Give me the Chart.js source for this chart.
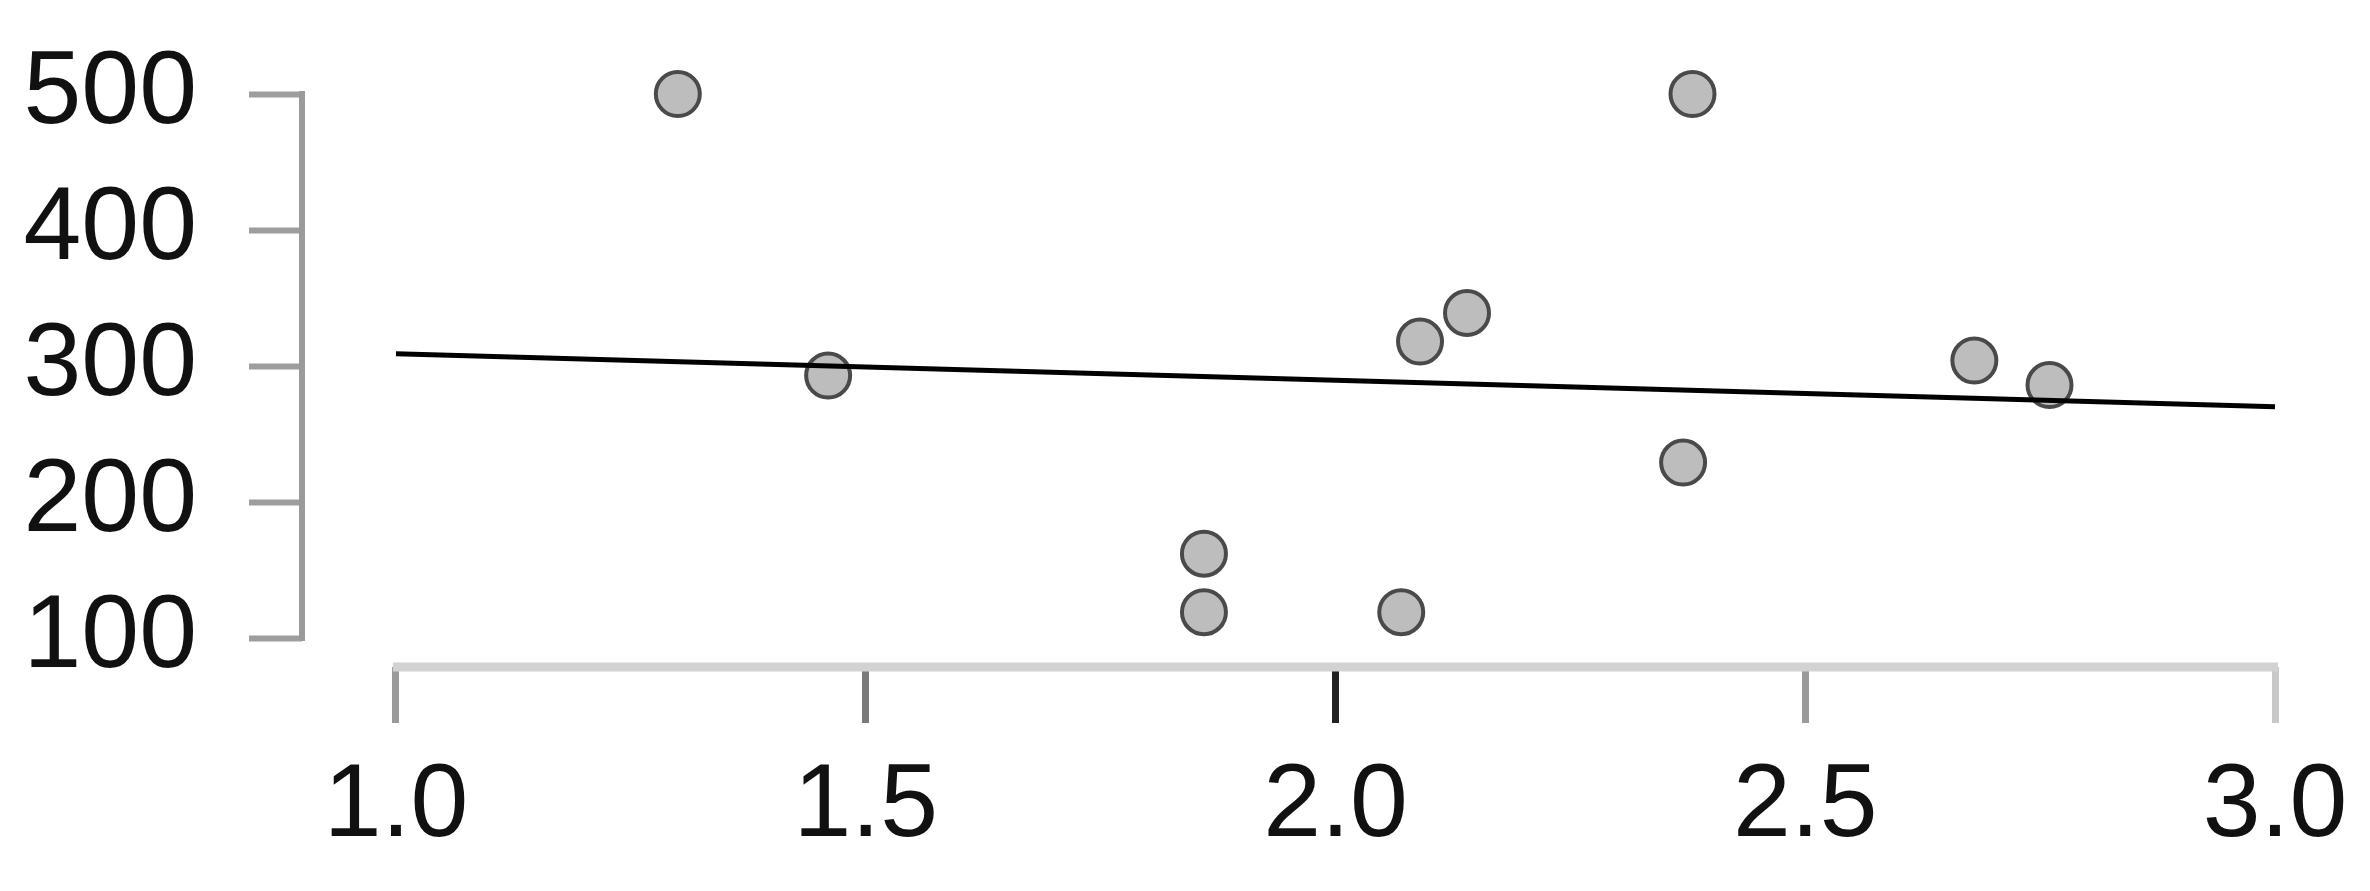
<!DOCTYPE html>
<html>
<head>
<meta charset="utf-8">
<title>Scatter with fit line</title>
<script src="https://cdn.jsdelivr.net/npm/chart.js@4.4.1/dist/chart.umd.min.js"></script>
<style>
    html, body { margin: 0; padding: 0; background: #ffffff; }
    #wrap { position: relative; width: 2370px; height: 891px; }
</style>
</head>
<body>
<div id="wrap"><canvas id="scatterChart"></canvas></div>
<script>
// values
const xValues = [1.30, 1.46, 1.86, 1.86, 2.07, 2.09, 2.14, 2.37, 2.38, 2.68, 2.76];
const yValues = [500, 293, 162, 119, 119, 318, 339, 229, 500, 304, 286];

// fitted line end points
const fitX = [1.0, 3.0];
const fitY = [309, 270];

// tick labels
const xTicks = [1.0, 1.5, 2.0, 2.5, 3.0];
const yTicks = [100, 200, 300, 400, 500];

document.addEventListener('DOMContentLoaded', () => {
    const points = xValues.map((x, i) => ({ x: x, y: yValues[i] }));
    const fitLine = fitX.map((x, i) => ({ x: x, y: fitY[i] }));

    // x tick marks are not all the same shade in the picture
    const xTickColors = ['#9a9a9a', '#7a7a7a', '#222222', '#9a9a9a', '#c8c8c8'];

    // axis lines only run between the first and last tick
    const axisLines = {
        id: 'axisLines',
        beforeDatasetsDraw(chart) {
            const { ctx, scales } = chart;
            const xs = scales.x, ys = scales.y;
            ctx.save();
            // y axis
            ctx.strokeStyle = '#9a9a9a';
            ctx.lineWidth = 6;
            ctx.beginPath();
            ctx.moveTo(ys.right, ys.getPixelForValue(yTicks[0]) + 3);
            ctx.lineTo(ys.right, ys.getPixelForValue(yTicks[yTicks.length - 1]) - 3);
            ctx.stroke();
            // x axis
            ctx.strokeStyle = '#d2d2d2';
            ctx.lineWidth = 9;
            ctx.beginPath();
            ctx.moveTo(xs.getPixelForValue(xTicks[0]) - 3, xs.top);
            ctx.lineTo(xs.getPixelForValue(xTicks[xTicks.length - 1]) + 3, xs.top);
            ctx.stroke();
            ctx.restore();
        }
    };

    const labelFont = { family: '"Liberation Sans", Arial, sans-serif', size: 104 };

    const ctx = document.getElementById('scatterChart').getContext('2d');
    new Chart(ctx, {
        type: 'scatter',
        data: {
            datasets: [
                {
                    label: 'fit',
                    data: fitLine,
                    showLine: true,
                    borderColor: '#000000',
                    borderWidth: 5,
                    pointRadius: 0,
                    order: 0,
                    clip: false
                },
                {
                    label: 'observations',
                    data: points,
                    backgroundColor: '#bdbdbd',
                    borderColor: '#4a4a4a',
                    borderWidth: 4,
                    pointRadius: 22,
                    order: 1,
                    clip: false
                }
            ]
        },
        options: {
            responsive: true,
            maintainAspectRatio: false,
            animation: false,
            layout: { padding: { top: 94, right: 95, left: 0, bottom: 0 } },
            plugins: {
                legend: { display: false },
                tooltip: { enabled: false }
            },
            scales: {
                x: {
                    type: 'linear',
                    min: 0.9,
                    max: 3.0,
                    afterBuildTicks: (scale) => {
                        scale.ticks = xTicks.map(v => ({ value: v }));
                    },
                    afterFit: (scale) => { scale.height = 224; },
                    border: { display: false },
                    grid: {
                        drawOnChartArea: false,
                        drawTicks: true,
                        tickLength: 56,
                        tickWidth: 7,
                        tickColor: (c) => xTickColors[c.index] || '#9a9a9a'
                    },
                    ticks: {
                        color: '#111111',
                        font: labelFont,
                        padding: 22,
                        maxRotation: 0,
                        callback: (v) => Number(v).toFixed(1)
                    }
                },
                y: {
                    type: 'linear',
                    min: 78.7,
                    max: 500,
                    afterBuildTicks: (scale) => {
                        scale.ticks = yTicks.map(v => ({ value: v }));
                    },
                    afterFit: (scale) => {
                        scale.width = 302;
                        // the layout padding already leaves room for the labels
                        scale.paddingTop = 0;
                        scale.paddingBottom = 0;
                    },
                    border: { display: false },
                    grid: {
                        drawOnChartArea: false,
                        drawTicks: true,
                        tickLength: 53,
                        tickWidth: 6,
                        tickColor: '#9e9e9e'
                    },
                    ticks: {
                        color: '#111111',
                        font: labelFont,
                        padding: 52,
                        callback: (v) => String(v)
                    }
                }
            }
        },
        plugins: [axisLines]
    });
});
</script>
</body>
</html>
